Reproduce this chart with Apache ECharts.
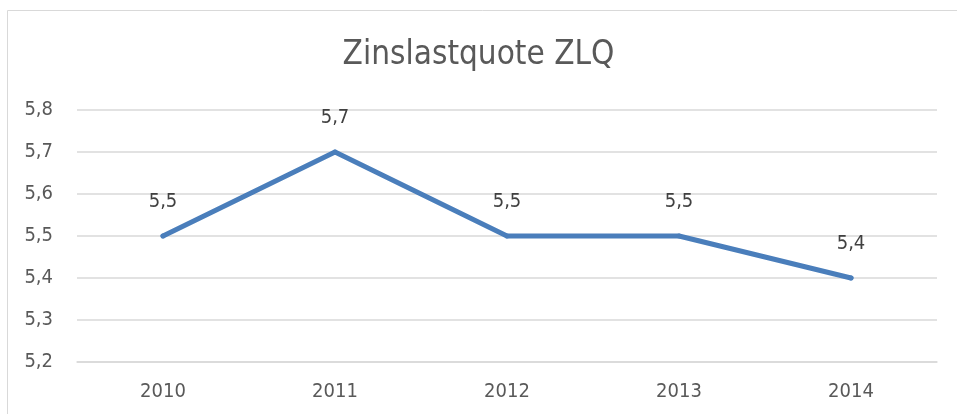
<!DOCTYPE html>
<html>
<head>
<meta charset="utf-8">
<script src="https://cdn.jsdelivr.net/npm/echarts@6/dist/echarts.min.js"></script>
<style>
  html, body { margin: 0; padding: 0; background: #fff; }
  #chart { width: 957px; height: 414px; }
</style>
</head>
<body>
<div id="chart"></div>
<script>
// Daten
var years = ['2010', '2011', '2012', '2013', '2014'];
var zlq = [5.5, 5.7, 5.5, 5.5, 5.4];
var yTicks = [5.2, 5.3, 5.4, 5.5, 5.6, 5.7, 5.8];

var fontFam = '"Liberation Sans Narrow", "DejaVu Sans Condensed", sans-serif';
function comma(v) { return Number(v).toFixed(1).replace('.', ','); }

var myChart = echarts.init(document.getElementById('chart'));
var option = {
  animation: false,
  title: {
    text: 'Zinslastquote ZLQ',
    left: 'center',
    top: 34,
    textStyle: { fontFamily: fontFam, fontSize: 33, fontWeight: 'normal', color: '#595959' }
  },
  graphic: [{
    type: 'rect',
    shape: { x: 7.5, y: 10.5, width: 980, height: 440 },
    style: { fill: 'none', stroke: '#d9d9d9', lineWidth: 1 },
    silent: true
  }],
  grid: { left: 77, right: 20, top: 110, bottom: 52 },
  xAxis: {
    type: 'category',
    data: years,
    boundaryGap: true,
    axisLine: { lineStyle: { color: '#d9d9d9', width: 1.5 } },
    axisTick: { show: false },
    axisLabel: { margin: 20, fontFamily: fontFam, fontSize: 20, color: '#595959' }
  },
  yAxis: {
    type: 'value',
    min: yTicks[0],
    max: yTicks[yTicks.length - 1],
    interval: 0.1,
    axisLine: { show: false },
    axisTick: { show: false },
    splitLine: { lineStyle: { color: '#d9d9d9', width: 1.5 } },
    axisLabel: { margin: 24, fontFamily: fontFam, fontSize: 20, color: '#595959', formatter: comma }
  },
  series: [{
    name: 'ZLQ',
    type: 'line',
    data: zlq,
    symbol: 'circle',
    symbolSize: 5,
    showSymbol: true,
    itemStyle: { color: '#4a7ebb' },
    lineStyle: { color: '#4a7ebb', width: 5, cap: 'round', join: 'round' },
    label: {
      show: true,
      position: 'top',
      distance: 22,
      fontFamily: fontFam,
      fontSize: 20,
      color: '#404040',
      formatter: function (p) { return comma(p.value); }
    }
  }]
};
myChart.setOption(option);
</script>
</body>
</html>
